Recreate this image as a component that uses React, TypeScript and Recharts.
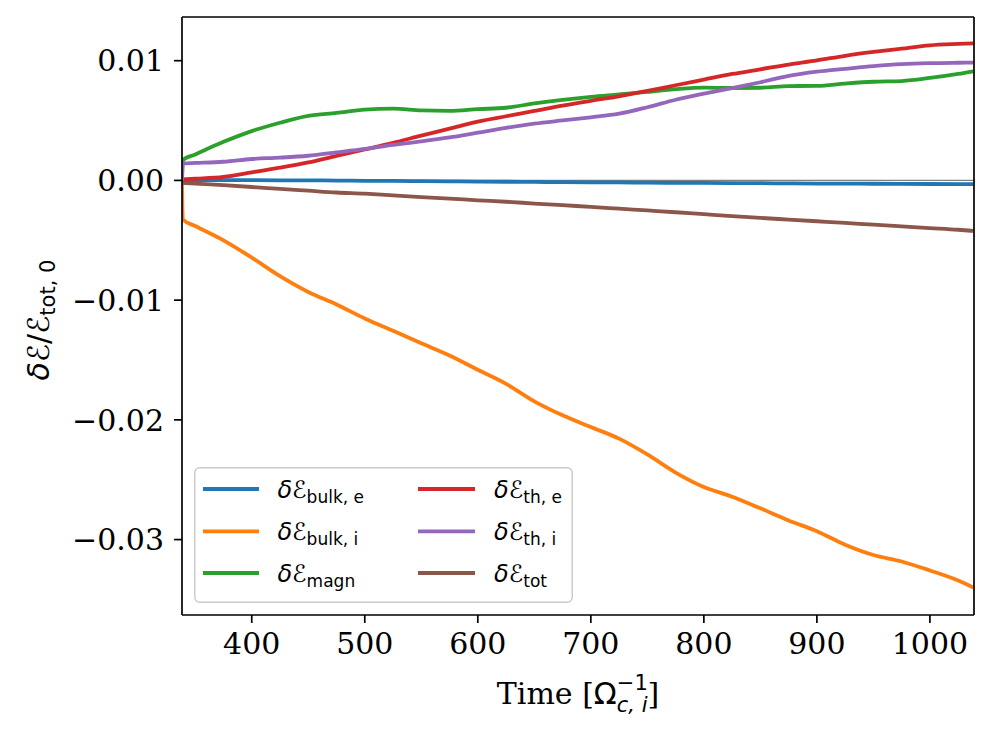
import React from "react";
import { LineChart, Line, XAxis, YAxis, Legend, ReferenceLine } from "recharts";

const times = [338.3, 339, 350, 375, 400, 425, 450, 475, 500, 525, 550, 575, 600, 625, 650, 675, 700, 725, 750, 775, 800, 825, 850, 875, 900, 925, 950, 975, 1000, 1025, 1038.5];

const bulkE = [0, 0.00003, 0.00003, 0.00002, 0.00002, 0.00001, 0, -0.00001, -0.00003, -0.00004, -0.00006, -0.00008, -0.0001, -0.00011, -0.00013, -0.00014, -0.00016, -0.00017, -0.00019, -0.0002, -0.00021, -0.00022, -0.00023, -0.00025, -0.00026, -0.00027, -0.00028, -0.00029, -0.0003, -0.00031, -0.00031];
const bulkI = [0, -0.00326, -0.00381, -0.00501, -0.00645, -0.008, -0.00932, -0.01036, -0.01153, -0.01256, -0.0136, -0.01462, -0.01582, -0.01699, -0.01845, -0.01962, -0.0206, -0.02157, -0.02289, -0.0244, -0.02561, -0.02642, -0.02739, -0.0284, -0.0293, -0.03043, -0.03129, -0.03183, -0.03258, -0.03342, -0.034];
const magn = [0, 0.0017, 0.00217, 0.00322, 0.00412, 0.00482, 0.0054, 0.00564, 0.00591, 0.00599, 0.00585, 0.00581, 0.00595, 0.00607, 0.00643, 0.00673, 0.00698, 0.00718, 0.00739, 0.00762, 0.00775, 0.00772, 0.00774, 0.00788, 0.0079, 0.00809, 0.00824, 0.0083, 0.00856, 0.0089, 0.00912];
const thE = [0, 0.00008, 0.00014, 0.0003, 0.00067, 0.00106, 0.0015, 0.00205, 0.00259, 0.00314, 0.00374, 0.00432, 0.00491, 0.00536, 0.0058, 0.00625, 0.00665, 0.00703, 0.00747, 0.00795, 0.00842, 0.00889, 0.00928, 0.00968, 0.01002, 0.01041, 0.01073, 0.01101, 0.01128, 0.0114, 0.01145];
const thI = [0, 0.00142, 0.00146, 0.00156, 0.00179, 0.0019, 0.00206, 0.00234, 0.00263, 0.00297, 0.00326, 0.00359, 0.00399, 0.00439, 0.00474, 0.00501, 0.00527, 0.00557, 0.00611, 0.00674, 0.00725, 0.00771, 0.0082, 0.00873, 0.00908, 0.00932, 0.00955, 0.00972, 0.0098, 0.00983, 0.00984];
const tot = [0, -0.0002, -0.00026, -0.0004, -0.00055, -0.00071, -0.00086, -0.00101, -0.00111, -0.00125, -0.0014, -0.00152, -0.00166, -0.00178, -0.00193, -0.00207, -0.00221, -0.00236, -0.00251, -0.00266, -0.00282, -0.00298, -0.00313, -0.00327, -0.00341, -0.00355, -0.0037, -0.00384, -0.00398, -0.00412, -0.00422];

const xTicks = [400, 500, 600, 700, 800, 900, 1000];
const yTicks = [-0.03, -0.02, -0.01, 0, 0.01];
const xDomain = [338.3, 1039];
const yDomain = [-0.0363, 0.01365];

const seriesInfo = [
  { key: "bulkE", color: "#1f77b4", sub: "bulk, e" },
  { key: "bulkI", color: "#ff7f0e", sub: "bulk, i" },
  { key: "magn", color: "#2ca02c", sub: "magn" },
  { key: "thE", color: "#d62728", sub: "th, e" },
  { key: "thI", color: "#9467bd", sub: "th, i" },
  { key: "tot", color: "#8c564b", sub: "tot" },
];

const data = times.map((t, i) => ({
  t,
  bulkE: bulkE[i],
  bulkI: bulkI[i],
  magn: magn[i],
  thE: thE[i],
  thI: thI[i],
  tot: tot[i],
}));

const fmtY = (v: number) => {
  if (Math.abs(v) < 1e-12) return "0.00";
  return (v < 0 ? "\u2212" : "") + Math.abs(v).toFixed(2);
};

const LegendBox = () => {
  const lineX = [[9, 65], [224, 281]];
  const textX = [83.4, 300];
  const rowY = [22, 64.4, 106];
  return (
    <svg width={380} height={137} style={{ display: "block" }}>
      <rect x={0.75} y={0.75} width={377.5} height={134.5} rx={5} ry={5} fill="#fff" fillOpacity={0.8} stroke="#cccccc" strokeWidth={1.5} />
      {seriesInfo.map((s, i) => {
        const col = Math.floor(i / 3);
        const row = i % 3;
        const yc = rowY[row];
        return (
          <g key={s.key}>
            <line x1={lineX[col][0]} x2={lineX[col][1]} y1={yc} y2={yc} stroke={s.color} strokeWidth={3.8} />
            <text x={textX[col]} y={yc + 8.7} fontFamily="DejaVu Sans" fontSize={24} fill="#000">
              <tspan fontStyle="italic">δ</tspan>
              <tspan>ℰ</tspan>
              <tspan fontSize={17} dy={5}>{s.sub}</tspan>
            </text>
          </g>
        );
      })}
    </svg>
  );
};

const YLabel = () => {
  const cx = 49;
  const cy = 320;
  return (
    <text x={cx} y={cy} transform={`rotate(-90 ${cx} ${cy})`} textAnchor="middle" fontFamily="DejaVu Sans" fontSize={30} fill="#000">
      <tspan fontStyle="italic">δ</tspan>
      <tspan>ℰ/ℰ</tspan>
      <tspan fontSize={21} dy={6}>tot, 0</tspan>
    </text>
  );
};

const XLabel = () => (
  <text x={578} y={704} textAnchor="middle" fontFamily="DejaVu Serif" fontSize={30} fill="#000">
    <tspan>{"Time ["}</tspan>
    <tspan fontFamily="DejaVu Sans">Ω</tspan>
    <tspan fontFamily="DejaVu Sans" fontSize={21} dy={-14}>−1</tspan>
    <tspan fontFamily="DejaVu Sans" fontStyle="italic" fontSize={21} dx={-31} dy={22}>c, i</tspan>
    <tspan dy={-8}>]</tspan>
  </text>
);

const tickStyle = { fill: "#000", fontSize: 30, fontFamily: "DejaVu Serif" };
const axisStroke = { stroke: "#000", strokeWidth: 1.7 };

export default function App() {
  return (
    <div style={{ position: "absolute", left: 0, top: 0, width: 992, height: 738, background: "#fff" }}>
      <LineChart width={992} height={738} data={data} margin={{ top: 17, right: 18, bottom: 0, left: 0 }}>
        <XAxis
          dataKey="t"
          type="number"
          domain={xDomain}
          ticks={xTicks}
          allowDataOverflow
          height={123}
          tick={tickStyle}
          tickSize={8}
          tickMargin={10}
          tickLine={axisStroke}
          axisLine={axisStroke}
          label={{ content: () => <XLabel /> }}
        />
        <YAxis
          type="number"
          domain={yDomain}
          ticks={yTicks}
          allowDataOverflow
          width={182}
          tick={tickStyle}
          tickSize={8}
          tickMargin={10}
          tickFormatter={fmtY}
          tickLine={axisStroke}
          axisLine={axisStroke}
          label={{ content: () => <YLabel /> }}
        />
        <ReferenceLine y={0} stroke="#808080" strokeWidth={1.3} />
        {seriesInfo.map((s) => (
          <Line key={s.key} type="monotone" dataKey={s.key} stroke={s.color} strokeWidth={3.8} dot={false} activeDot={false} isAnimationActive={false} />
        ))}
        <ReferenceLine y={yDomain[1]} stroke="#000" strokeWidth={1.7} />
        <ReferenceLine x={xDomain[1]} stroke="#000" strokeWidth={1.7} />
        <Legend
          layout="horizontal"
          verticalAlign="middle"
          align="center"
          content={() => <LegendBox />}
          wrapperStyle={{ left: 194, top: 467, width: 380, height: 137 }}
        />
      </LineChart>
    </div>
  );
}
